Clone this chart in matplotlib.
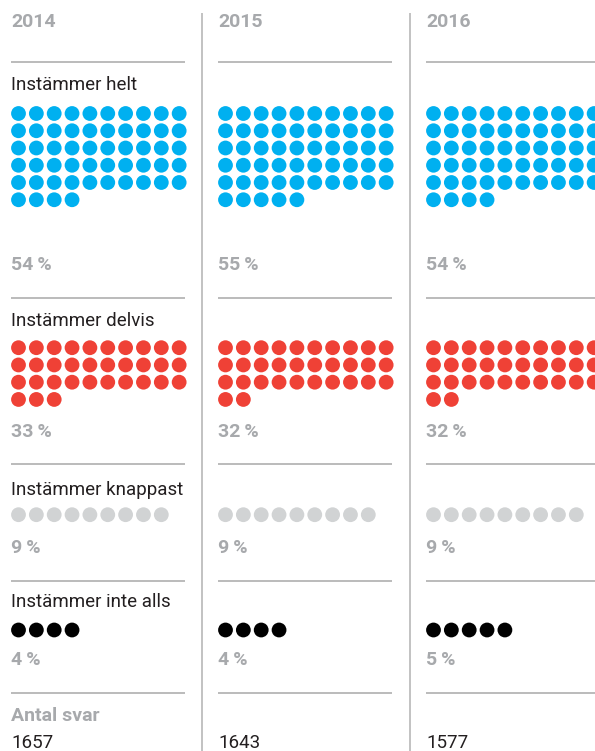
import matplotlib
matplotlib.use("Agg")
import matplotlib.pyplot as plt

years = ['2014', '2015', '2016']
categories = ['Instämmer helt', 'Instämmer delvis', 'Instämmer knappast', 'Instämmer inte alls']
helt = [54, 55, 54]
delvis = [33, 32, 32]
knappast = [9, 9, 9]
inte_alls = [4, 4, 5]
antal_svar = [1657, 1643, 1577]
antal_label = 'Antal svar'

series = [helt, delvis, knappast, inte_alls]
colors = ['#00b0f0', '#ef4136', '#d1d3d4', '#000000']

W, H = 595, 751
fig = plt.figure(figsize=(W / 100, H / 100), dpi=100)
ax = fig.add_axes([0, 0, 1, 1])
ax.set_xlim(0, W)
ax.set_ylim(H, 0)
ax.axis('off')

FONT = ['Roboto', 'DejaVu Sans']
label_color = '#231f20'
gray_text = '#a7a9ac'
line_color = '#b5b5b5'

col_x = [11, 218, 426]
col_w = 174
hlines_y = [62, 298, 464, 581, 693]
label_base = [90, 326, 495, 607]
dot_top = [113.5, 347.7, 514.7, 630]
pct_base = [270, 437, 553, 665]
dx = 17.85
dy = 17.25
dot_s = (14.8 * 0.72) ** 2
BOLD_SIZE = 14
LABEL_SIZE = 13.5

for c, x0 in enumerate(col_x):
    ax.text(x0, 27, years[c], fontsize=BOLD_SIZE, fontweight='bold', color=gray_text,
            family=FONT, va='baseline', ha='left')
    if c > 0:
        ax.plot([x0 - 16.5, x0 - 16.5], [13, H], color='#bdbdbd', lw=1.3,
                solid_capstyle='butt')
    for yl in hlines_y:
        ax.plot([x0, x0 + col_w], [yl, yl], color=line_color, lw=1.3,
                solid_capstyle='butt')
    for k, vals in enumerate(series):
        v = vals[c]
        xs = [x0 + 7.5 + (i % 10) * dx for i in range(v)]
        ys = [dot_top[k] + (i // 10) * dy for i in range(v)]
        ax.scatter(xs, ys, s=dot_s, color=colors[k], edgecolors='none', zorder=3)
        ax.text(x0, pct_base[k], f'{v}\u2009%', fontsize=BOLD_SIZE, fontweight='bold',
                color=gray_text, family=FONT, va='baseline', ha='left')
        if c == 0:
            ax.text(x0, label_base[k], categories[k], fontsize=LABEL_SIZE, color=label_color,
                    family=FONT, va='baseline', ha='left')
    if c == 0:
        ax.text(x0, 721, antal_label, fontsize=BOLD_SIZE, fontweight='bold',
                color=gray_text, family=FONT, va='baseline', ha='left')
    ax.text(x0, 748, str(antal_svar[c]), fontsize=LABEL_SIZE, color=label_color,
            family=FONT, va='baseline', ha='left')

fig.savefig('out.png', dpi=100, facecolor='white')
